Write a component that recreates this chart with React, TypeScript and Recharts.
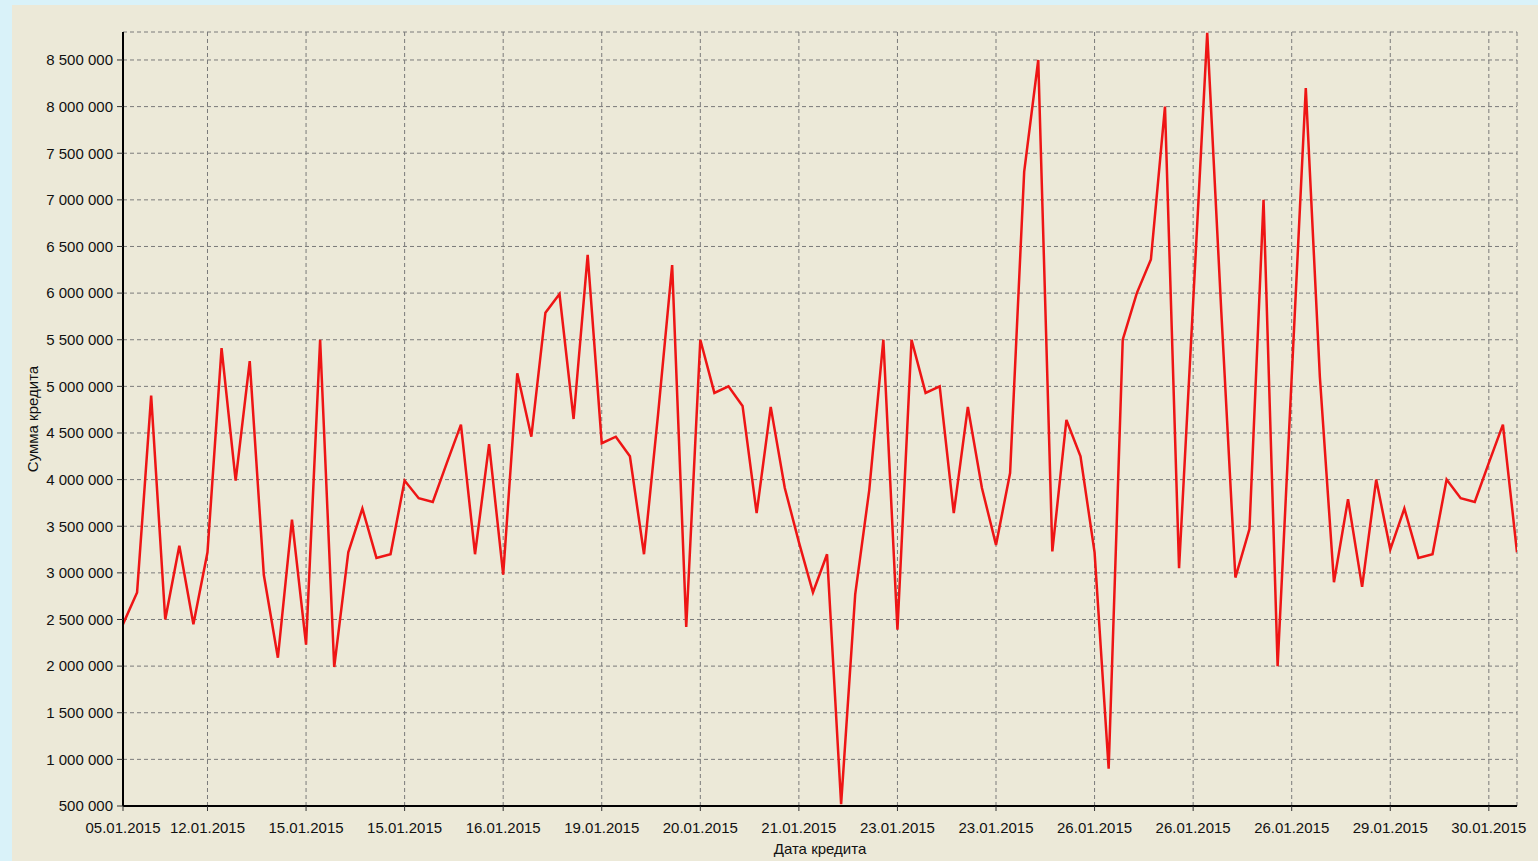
import { LineChart, Line, XAxis, YAxis, CartesianGrid, Label } from "recharts";

// сумма кредита по порядку выдачи, руб.
const amounts = [
  2450000, 2790000, 4900000, 2500000, 3290000, 2450000, 3220000, 5410000, 3990000, 5270000,
  2980000, 2090000, 3570000, 2230000, 5500000, 1990000, 3220000, 3690000, 3160000, 3200000,
  3990000, 3800000, 3760000, 4180000, 4590000, 3200000, 4380000, 2980000, 5140000, 4460000,
  5790000, 5990000, 4650000, 6410000, 4390000, 4460000, 4250000, 3200000, 4700000, 6300000,
  2420000, 5500000, 4930000, 5000000, 4790000, 3640000, 4780000, 3910000, 3330000, 2790000,
  3200000, 520000, 2770000, 3890000, 5500000, 2390000, 5500000, 4930000, 5000000, 3640000,
  4780000, 3910000, 3300000, 4070000, 7300000, 8500000, 3230000, 4640000, 4250000, 3220000,
  900000, 5500000, 6000000, 6360000, 8000000, 3050000, 5900000, 8790000, 5800000, 2950000,
  3470000, 7000000, 2000000, 5100000, 8200000, 5100000, 2900000, 3790000, 2850000, 4000000,
  3250000, 3690000, 3160000, 3200000, 4000000, 3800000, 3760000, 4180000, 4590000, 3220000,
];

const tickIndex = [0, 6, 13, 20, 27, 34, 41, 48, 55, 62, 69, 76, 83, 90, 97];
const tickDates = [
  "05.01.2015", "12.01.2015", "15.01.2015", "15.01.2015", "16.01.2015",
  "19.01.2015", "20.01.2015", "21.01.2015", "23.01.2015", "23.01.2015",
  "26.01.2015", "26.01.2015", "26.01.2015", "29.01.2015", "30.01.2015",
];
const yTicks = [
  500000, 1000000, 1500000, 2000000, 2500000, 3000000, 3500000, 4000000, 4500000,
  5000000, 5500000, 6000000, 6500000, 7000000, 7500000, 8000000, 8500000,
];

const data = amounts.map((v, i) => ({ i, v }));
const xMinor: number[] = [];
for (let t = 0.75; t <= 99; t += 1.75) xMinor.push(t);
const yMinor: number[] = [];
for (let t = 500000; t <= 8800000; t += 100000) yMinor.push(t);

const Y_DOMAIN: [number, number] = [500000, 8800000];
const FONT = "'Liberation Sans', Arial, sans-serif";

const fmtMoney = (v: number) => String(v).replace(/\B(?=(\d{3})+(?!\d))/g, " ");
const fmtDate = (v: number) => tickDates[tickIndex.indexOf(v)] ?? "";

export default function App() {
  return (
    <div style={{ position: "absolute", left: 0, top: 0, width: 1538, height: 861, background: "#d9f2f9", overflow: "hidden" }}>
      <div style={{ position: "absolute", left: 12, top: 5, width: 1526, height: 856, background: "#ece9d8" }} />
      <div style={{ position: "absolute", left: 0, top: 0 }}>
        <LineChart width={1538} height={861} data={data} margin={{ top: 32, right: 21, bottom: 5, left: 12 }}>
          <CartesianGrid stroke="#7a7a7a" strokeDasharray="4 3" />
          {/* minor ticks first so they sit right on the plot edge */}
          <XAxis
            xAxisId="minor"
            type="number"
            dataKey="i"
            domain={[0, 99]}
            ticks={xMinor}
            height={0}
            axisLine={false}
            tickSize={3}
            tickFormatter={() => ""}
            tickLine={{ stroke: "#555" }}
            allowDataOverflow
          />
          <XAxis
            type="number"
            dataKey="i"
            domain={[0, 99]}
            ticks={tickIndex}
            interval={0}
            tickFormatter={fmtDate}
            height={50}
            tickSize={5}
            tickMargin={11}
            axisLine={{ stroke: "#000", strokeWidth: 2 }}
            tickLine={{ stroke: "#333" }}
            tick={{ fill: "#111", fontSize: 15, fontFamily: FONT }}
            allowDataOverflow
          >
            <Label
              content={(p: any) => (
                <text
                  x={p.viewBox.x + p.viewBox.width / 2}
                  y={p.viewBox.y + 42}
                  textAnchor="middle"
                  dominantBaseline="central"
                  fill="#111"
                  fontSize={15}
                  fontFamily={FONT}
                >
                  Дата кредита
                </text>
              )}
            />
          </XAxis>
          <XAxis xAxisId="top" orientation="top" type="number" dataKey="i" domain={[0, 99]} height={0} tick={false} tickLine={false} axisLine={{ stroke: "#222" }} />
          <YAxis
            yAxisId="minor"
            type="number"
            domain={Y_DOMAIN}
            ticks={yMinor}
            width={0}
            axisLine={false}
            tickSize={3}
            tickFormatter={() => ""}
            tickLine={{ stroke: "#555" }}
            allowDataOverflow
          />
          <YAxis
            type="number"
            domain={Y_DOMAIN}
            ticks={yTicks}
            interval={0}
            width={111}
            tickSize={6}
            tickMargin={4}
            tickFormatter={fmtMoney}
            axisLine={{ stroke: "#000", strokeWidth: 2 }}
            tickLine={{ stroke: "#333" }}
            tick={{ fill: "#111", fontSize: 15, fontFamily: FONT }}
            allowDataOverflow
          >
            <Label
              content={(p: any) => {
                const cx = p.viewBox.x + 20;
                const cy = p.viewBox.y + p.viewBox.height / 2;
                return (
                  <text
                    x={cx}
                    y={cy}
                    transform={`rotate(-90 ${cx} ${cy})`}
                    textAnchor="middle"
                    dominantBaseline="central"
                    fill="#111"
                    fontSize={15}
                    fontFamily={FONT}
                  >
                    Сумма кредита
                  </text>
                );
              }}
            />
          </YAxis>
          <YAxis yAxisId="right" orientation="right" type="number" domain={Y_DOMAIN} width={0} tick={false} tickLine={false} axisLine={{ stroke: "#222" }} />
          <Line
            type="linear"
            dataKey="v"
            stroke="#ee1515"
            strokeWidth={2.5}
            dot={false}
            isAnimationActive={false}
          />
        </LineChart>
      </div>
    </div>
  );
}
